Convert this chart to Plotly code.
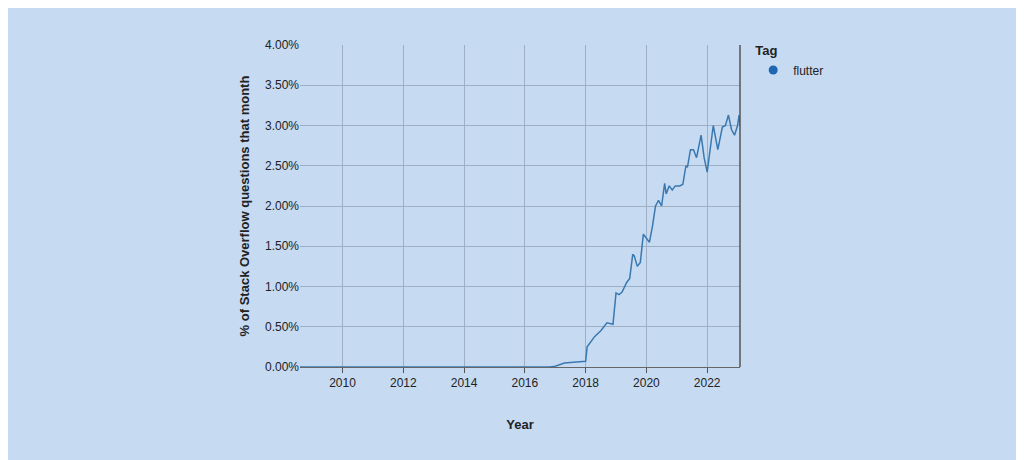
import plotly.graph_objects as go

years = [2008.6, 2012.0, 2016.0, 2016.8, 2017.0, 2017.3, 2017.6, 2018.0, 2018.05, 2018.3, 2018.5, 2018.7, 2018.9,
         2019.0, 2019.1, 2019.2, 2019.35, 2019.45, 2019.55, 2019.6, 2019.7, 2019.8, 2019.9, 2020.0, 2020.1,
         2020.2, 2020.3, 2020.4, 2020.5, 2020.6, 2020.65, 2020.75, 2020.85, 2020.95, 2021.1, 2021.2, 2021.3,
         2021.35, 2021.45, 2021.55, 2021.65, 2021.8, 2021.9, 2022.0, 2022.1, 2022.2, 2022.35, 2022.5, 2022.6,
         2022.7, 2022.8, 2022.9, 2023.0, 2023.05, 2023.08]
share = [0.0, 0.0, 0.0, 0.0, 0.01, 0.05, 0.06, 0.07, 0.25, 0.38, 0.45, 0.55, 0.53,
         0.92, 0.90, 0.93, 1.05, 1.10, 1.40, 1.38, 1.25, 1.30, 1.65, 1.60, 1.55,
         1.75, 2.00, 2.07, 2.00, 2.28, 2.15, 2.25, 2.20, 2.25, 2.25, 2.27, 2.50,
         2.48, 2.70, 2.70, 2.60, 2.88, 2.60, 2.42, 2.70, 3.00, 2.70, 2.98, 3.00,
         3.13, 2.95, 2.88, 3.00, 3.13, 3.00]
tick_years = [2010, 2012, 2014, 2016, 2018, 2020, 2022]
tick_pct = [0, 0.5, 1, 1.5, 2, 2.5, 3, 3.5, 4]

blue = "#3a78b0"
fig = go.Figure()
fig.add_trace(go.Scatter(x=years, y=share, mode="lines", line=dict(color=blue, width=1.5), showlegend=False))
fig.add_trace(go.Scatter(x=[None], y=[None], mode="markers", name="flutter",
                         marker=dict(color="#1f66b0", size=9)))
grid = "#9fafc3"
fig.update_layout(
    width=1024, height=460,
    margin=dict(l=292, r=292, t=37, b=101),
    paper_bgcolor="#c6dbf2", plot_bgcolor="#c6dbf2",
    font=dict(family="Liberation Sans, Arial", size=12, color="#222"),
    legend=dict(title=dict(text="<b>Tag</b>", font=dict(size=13)), x=1.03, y=1.02,
                xanchor="left", yanchor="top", font=dict(size=12)),
    xaxis=dict(range=[2008.6, 2023.08], tickvals=tick_years, ticktext=[str(t) for t in tick_years],
               showgrid=True, gridcolor=grid, zeroline=False, ticks="outside", ticklen=5,
               tickcolor="#555", showline=True, linecolor="#666",
               title=dict(text="<b>Year</b>", font=dict(size=13), standoff=30)),
    yaxis=dict(range=[0, 4], tickvals=tick_pct, ticktext=[f"{v:.2f}%" for v in tick_pct],
               showgrid=True, gridcolor=grid, zeroline=False, ticks="",
               title=dict(text="<b>% of Stack Overflow questions that month</b>", font=dict(size=13), standoff=12)),
    shapes=[dict(type="line", xref="x domain", yref="y domain", x0=1, x1=1, y0=0, y1=1,
                 line=dict(color="#555", width=1.5))],
)
fig.write_html("out.html")
